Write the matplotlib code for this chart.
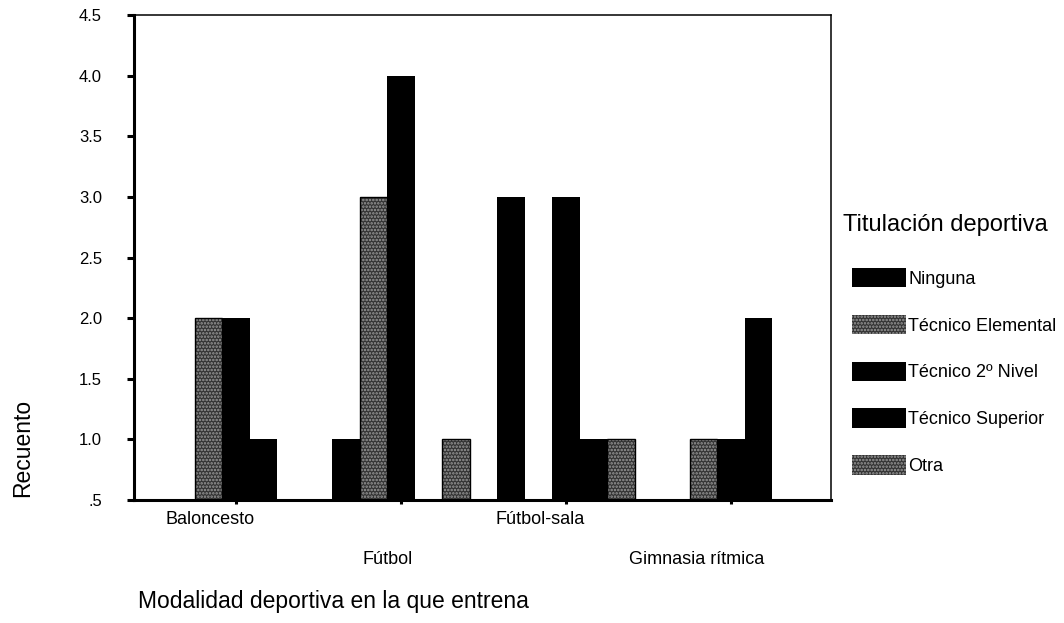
import numpy as np
import matplotlib.pyplot as plt
from matplotlib.patches import Patch

plt.rcParams['font.family'] = ['Liberation Sans', 'DejaVu Sans']
plt.rcParams['hatch.linewidth'] = 1.2

modalidades = ['Baloncesto', 'Fútbol', 'Fútbol-sala', 'Gimnasia rítmica']
series = ['Ninguna', 'Técnico Elemental', 'Técnico 2º Nivel', 'Técnico Superior', 'Otra']
ninguna = [0, 1, 3, 0]
elemental = [2, 3, 0, 1]
nivel2 = [2, 4, 3, 1]
superior = [1, 0, 1, 2]
otra = [0, 1, 1, 0]
valores = [ninguna, elemental, nivel2, superior, otra]
yticks = [0.5, 1.0, 1.5, 2.0, 2.5, 3.0, 3.5, 4.0, 4.5]
yticklabels = ['.5', '1.0', '1.5', '2.0', '2.5', '3.0', '3.5', '4.0', '4.5']

texturado = [False, True, False, False, True]
gris = '#333333'
motas = '#9a9a9a'

fig = plt.figure(figsize=(10.64, 6.23), dpi=100)
ax = fig.add_axes([0.1259, 0.1974, 0.6551, 0.7785])

x = np.arange(len(modalidades))
w = 1 / 6
for k, vals in enumerate(valores):
    pos = x + (k - 2) * w
    if texturado[k]:
        ax.bar(pos, vals, width=w, color=gris, hatch='.....',
               edgecolor=motas, linewidth=0, zorder=2)
        ax.bar(pos, vals, width=w, fill=False, edgecolor='black',
               linewidth=1, zorder=3)
    else:
        ax.bar(pos, vals, width=w, color='black', linewidth=0, zorder=2)

ax.set_xlim(-0.618, 3.606)
ax.set_ylim(0.5, 4.5)
ax.set_yticks(yticks)
ax.set_yticklabels(yticklabels, fontsize=12)
ax.set_xticks(x)
ax.set_xticklabels([])
ax.tick_params(axis='y', direction='out', length=5, width=2.2, pad=18)
ax.tick_params(axis='x', direction='out', length=3, width=2.2)
for s in ['left', 'bottom']:
    ax.spines[s].set_linewidth(2.2)
for s in ['top', 'right']:
    ax.spines[s].set_linewidth(1.1)

# etiquetas escalonadas del eje x
desplaz = [-0.158, -0.079, -0.158, -0.206]
fila = [0, 1, 0, 1]
for i, nombre in enumerate(modalidades):
    ax.text(x[i] + desplaz[i], -0.041 - 0.081 * fila[i], nombre,
            transform=ax.get_xaxis_transform(), ha='center', va='center',
            fontsize=13)

fig.text(0.0216, 0.281, 'Recuento', rotation=90, ha='center', va='center', fontsize=16.5)
fig.text(0.1300, 0.034, 'Modalidad deportiva en la que entrena', ha='left',
         va='center', fontsize=16.5)

handles = []
for k, nombre in enumerate(series):
    if texturado[k]:
        handles.append(Patch(facecolor=gris, hatch='.....', edgecolor=motas,
                             linewidth=0, label=nombre))
    else:
        handles.append(Patch(facecolor='black', linewidth=0, label=nombre))

leg = fig.legend(handles=handles, loc='upper left', bbox_to_anchor=(0.8008, 0.6485),
                 frameon=False, fontsize=13, title='Titulación deportiva',
                 title_fontsize=17, handlelength=3.0, handleheight=1.27,
                 labelspacing=1.5, handletextpad=0.12, borderaxespad=0,
                 borderpad=0)
leg._legend_box.align = 'left'
leg.get_title().set_position((-9, 5))

fig.savefig('out.png', dpi=100)
